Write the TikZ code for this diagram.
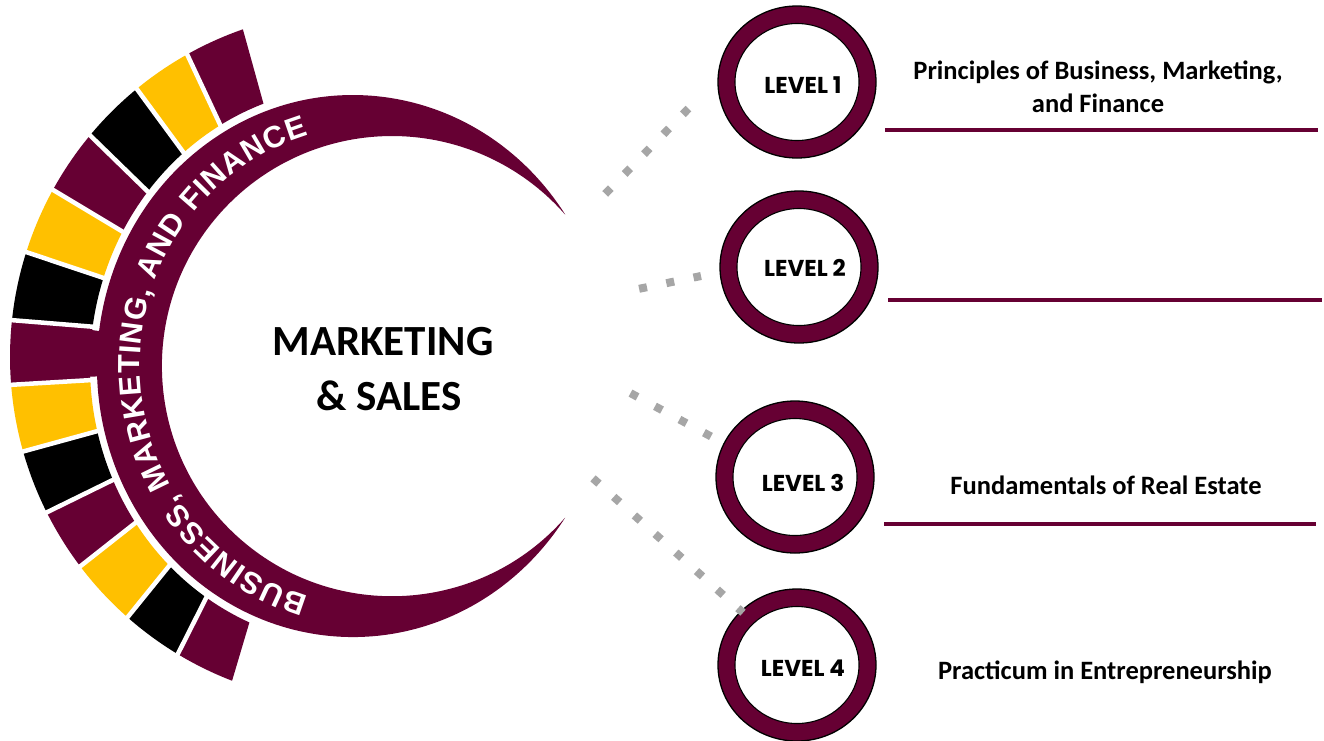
\documentclass[tikz,border=0pt]{standalone}
\usepackage{fontspec}
\setmainfont{Carlito}
\newfontfamily\arcfont{Liberation Sans}
\newfontfamily\lvlfont{Poppins}
\usetikzlibrary{calc,decorations.text,shapes.geometric}
\definecolor{maroon}{RGB}{102,0,51}
\definecolor{gold}{RGB}{255,192,0}
\definecolor{dotgray}{RGB}{166,166,166}
\begin{document}
\begin{tikzpicture}[x=1pt,y=1pt,
  ringout/.style={ellipse, draw=black, line width=1.3pt, fill=maroon, minimum width=158pt, minimum height=152pt, inner sep=0pt},
  ringin/.style={ellipse, draw=black, line width=1.1pt, fill=white, minimum width=124pt, minimum height=117pt, inner sep=0pt},
  lvl/.style={font=\lvlfont\bfseries\fontsize{23}{23}\selectfont, anchor=base, inner sep=0pt},
  ctrtext/.style={font=\bfseries\fontsize{43}{43}\selectfont, anchor=base, inner sep=0pt},
  course/.style={font=\bfseries\fontsize{26.5}{33}\selectfont, anchor=base, inner sep=0pt, align=center},
  uline/.style={draw=maroon, line width=3.5pt},
  dots/.style={draw=dotgray, line width=8pt, dash pattern=on 8pt off 19.8pt},
  gapline/.style={draw=white, line width=4.5pt}
]
\useasboundingbox (0,0) rectangle (1324,-740);
\fill[white] (0,0) rectangle (1324,-740);

% outer segments
\foreach \ta/\tb/\pa/\pb/\col in {109.2/119.3/109.9/120.3/maroon, 119.3/129.4/120.3/130.1/gold, 129.4/140.3/130.1/141.3/black, 140.3/151.2/141.3/151.2/maroon, 151.2/162.4/151.2/161.6/gold, 162.4/173.9/161.6/171.9/black, 173.9/184.6/171.9/182.9/maroon, 184.6/195.8/182.9/193.5/gold, 195.8/206.6/193.5/204.1/black, 206.6/217.1/204.1/214.2/maroon, 217.1/228.6/214.2/225.7/gold, 228.6/238.9/225.7/236.1/black, 238.9/248.9/236.1/246.8/maroon}
{\fill[\col] ($(357,-357)+(\ta:347pt)$) arc[start angle=\ta, end angle=\tb, radius=347pt] -- ($(353,-366)+(\pb:263pt and 279pt)$) arc[start angle=\pb, end angle=\pa, x radius=263pt, y radius=279pt] -- cycle;}
% maroon segment joining the band
\fill[maroon] ($(353,-366)+(172.6:265pt and 281pt)$) arc[start angle=172.6, end angle=182.2, x radius=265pt, y radius=281pt] -- ($(353,-366)+(182.2:248pt and 263pt)$) arc[start angle=182.2, end angle=172.6, x radius=248pt, y radius=263pt] -- cycle;
% white gaps between segments
\foreach \t/\p in {119.3/120.3, 129.4/130.1, 140.3/141.3, 151.2/151.2, 162.4/161.6, 173.9/171.9, 184.6/182.9, 195.8/193.5, 206.6/204.1, 217.1/214.2, 228.6/225.7, 238.9/236.1}
{\coordinate (ga) at ($(357,-357)+(\t:347pt)$);
 \coordinate (gb) at ($(353,-366)+(\p:263pt and 279pt)$);
 \draw[gapline] ($(ga)!-0.1!(gb)$) -- ($(gb)!-0.1!(ga)$);}

% crescent band
\fill[maroon] (565.2,-214.5) arc[start angle=34, end angle=326, x radius=256pt, y radius=271pt]
  arc[start angle=318.83, end angle=41.17, radius=230.1pt] -- cycle;

% text on the band
\path[decorate, decoration={text along path, text color=white, text align={fit to path},
  text={|\arcfont\bfseries\fontsize{30.5}{30.5}\selectfont|BUSINESS, MARKETING, AND FINANCE}}]
  ($(372.5,-366)+(254:232.5pt and 240pt)$) arc[start angle=254, end angle=106, x radius=232.5pt, y radius=240pt];

% centre title
\node[ctrtext] (m1) at (383,-355) {MARKETING};
\node[ctrtext] (m2) at (389,-410) {\& SALES};

% level circles
\node[ringout] (l1) at (797,-82) {};
\node[ringin] (l1i) at (l1) {};
\node[lvl] (t1) at (803,-93) {LEVEL 1};
\node[ringout] (l2) at (799,-267) {};
\node[ringin] (l2i) at (l2) {};
\node[lvl] (t2) at (805,-276) {LEVEL 2};
\node[ringout] (l3) at (795,-477) {};
\node[ringin] (l3i) at (l3) {};
\node[lvl] (t3) at (803,-491) {LEVEL 3};
\node[ringout] (l4) at (797,-665) {};
\node[ringin] (l4i) at (l4) {};
\node[lvl] (t4) at (803,-676) {LEVEL 4};

% course titles
\node[course] (c1) at (1098,-112) {Principles of Business, Marketing,\\and Finance};
\node[course] (c3) at (1106,-494) {Fundamentals of Real Estate};
\node[course] (c4) at (1105,-679) {Practicum in Entrepreneurship};

% underlines
\coordinate (u1a) at (885,-130); \coordinate (u1b) at (1318,-130);
\coordinate (u2a) at (888,-300); \coordinate (u2b) at (1322,-300);
\coordinate (u3a) at (884,-524); \coordinate (u3b) at (1316,-524);
\draw[uline] (u1a) -- (u1b);
\draw[uline] (u2a) -- (u2b);
\draw[uline] (u3a) -- (u3b);

% dotted connectors
\coordinate (d1a) at (605.2,-193.9); \coordinate (d1b) at (689,-108);
\coordinate (d2a) at (639.1,-288.8); \coordinate (d2b) at (701,-276);
\coordinate (d3a) at (630.5,-393.1); \coordinate (d3b) at (712,-437);
\coordinate (d4a) at (593,-478.3); \coordinate (d4b) at (743,-612.7);
\draw[dots] (d1a) -- (d1b);
\draw[dots] (d2a) -- (d2b);
\draw[dots] (d3a) -- (d3b);
\draw[dots] (d4a) -- (d4b);
\end{tikzpicture}
\end{document}
